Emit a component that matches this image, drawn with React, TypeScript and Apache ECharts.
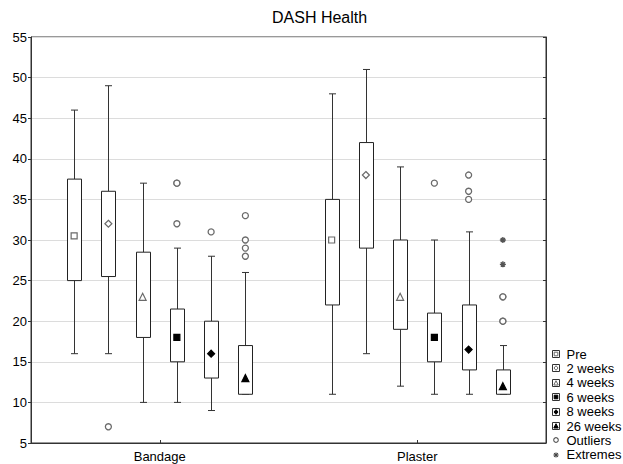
import React, { useEffect, useRef } from "react";
import * as echarts from "echarts";

const title = "DASH Health";
const categories = ["Bandage", "Plaster"];
const timepoints = ["Pre", "2 weeks", "4 weeks", "6 weeks", "8 weeks", "26 weeks"];
const yTicks = { min: 5, max: 55, interval: 5 };

// [whisker low, Q1, Q3, whisker high] per time point
const bandageBox = [
  [16, 25, 37.5, 46],
  [16, 25.5, 36, 49],
  [10, 18, 28.5, 37],
  [10, 15, 21.5, 29],
  [9, 13, 20, 28],
  [11, 11, 17, 26],
];
const plasterBox = [
  [11, 22, 35, 48],
  [16, 29, 42, 51],
  [12, 19, 30, 39],
  [11, 15, 21, 30],
  [11, 14, 22, 31],
  [11, 11, 14, 17],
];
const bandageMean = [30.5, 32, 23, 18, 16, 13];
const plasterMean = [30, 38, 23, 18, 16.5, 12];
const bandageOutliers = [[], [7], [], [37, 37, 32], [31], [33, 30, 29, 28]];
const plasterOutliers = [[], [], [], [37], [38, 36, 35], [23, 23, 20, 20]];
const bandageExtremes: number[][] = [[], [], [], [], [], []];
const plasterExtremes = [[], [], [], [], [], [30, 27]];

const FONT = "'Liberation Sans', Arial, sans-serif";
const SPACING = 0.133; // group spacing in category units
const posOf = (ci: number, k: number) => ci + 0.5 + (k - 2.5) * SPACING;

const meanSymbols = [
  { symbol: "rect", size: 6, fill: "#fff", stroke: "#6a6a6a" },
  { symbol: "diamond", size: 7, fill: "#fff", stroke: "#6a6a6a" },
  { symbol: "triangle", size: 7, fill: "#fff", stroke: "#6a6a6a" },
  { symbol: "rect", size: 6, fill: "#000", stroke: "#000" },
  { symbol: "diamond", size: 7, fill: "#000", stroke: "#000" },
  { symbol: "triangle", size: 7, fill: "#000", stroke: "#000" },
];

const ASTERISK = "path://M5,0L5,10M0,5L10,5M1.5,1.5L8.5,8.5M8.5,1.5L1.5,8.5";

function buildOption() {
  const boxes = [bandageBox, plasterBox];
  const means = [bandageMean, plasterMean];
  const outs = [bandageOutliers, plasterOutliers];
  const exts = [bandageExtremes, plasterExtremes];
  const series: any[] = [];

  timepoints.forEach((tp, k) => {
    series.push({
      name: tp,
      type: "custom",
      xAxisIndex: 1,
      yAxisIndex: 0,
      z: 2,
      data: categories.map((_, ci) => [posOf(ci, k), ...boxes[ci][k]]),
      renderItem: (params: any, api: any) => {
        const x = api.value(0);
        const pLow = api.coord([x, api.value(1)]);
        const pQ1 = api.coord([x, api.value(2)]);
        const pQ3 = api.coord([x, api.value(3)]);
        const pHigh = api.coord([x, api.value(4)]);
        const cx = Math.round(pLow[0]) + 0.5;
        const hw = 7;
        const cap = 3.5;
        const ls = { stroke: "#333", lineWidth: 1 };
        return {
          type: "group",
          children: [
            { type: "line", shape: { x1: cx, y1: pHigh[1], x2: cx, y2: pQ3[1] }, style: ls },
            { type: "line", shape: { x1: cx, y1: pQ1[1], x2: cx, y2: pLow[1] }, style: ls },
            { type: "line", shape: { x1: cx - cap, y1: pHigh[1], x2: cx + cap, y2: pHigh[1] }, style: ls },
            { type: "line", shape: { x1: cx - cap, y1: pLow[1], x2: cx + cap, y2: pLow[1] }, style: ls },
            {
              type: "rect",
              shape: { x: cx - hw, y: pQ3[1], width: 2 * hw, height: pQ1[1] - pQ3[1] },
              style: { fill: "#fff", stroke: "#222", lineWidth: 1 },
            },
          ],
        };
      },
    });
    const ms = meanSymbols[k];
    series.push({
      name: tp + " mean",
      type: "scatter",
      xAxisIndex: 1,
      yAxisIndex: 0,
      z: 4,
      symbol: ms.symbol,
      symbolSize: ms.size,
      itemStyle: { color: ms.fill, borderColor: ms.stroke, borderWidth: 1.2, opacity: 1 },
      data: categories.map((_, ci) => [posOf(ci, k), means[ci][k]]),
    });
  });

  const outlierData: number[][] = [];
  const extremeData: number[][] = [];
  categories.forEach((_, ci) => {
    timepoints.forEach((_, k) => {
      outs[ci][k].forEach((v) => outlierData.push([posOf(ci, k), v]));
      exts[ci][k].forEach((v) => extremeData.push([posOf(ci, k), v]));
    });
  });
  series.push({
    name: "Outliers",
    type: "scatter",
    xAxisIndex: 1,
    yAxisIndex: 0,
    z: 4,
    symbol: "circle",
    symbolSize: 6,
    itemStyle: { color: "#fff", borderColor: "#6a6a6a", borderWidth: 1.3, opacity: 1 },
    data: outlierData,
  });
  series.push({
    name: "Extremes",
    type: "scatter",
    xAxisIndex: 1,
    yAxisIndex: 0,
    z: 4,
    symbol: ASTERISK,
    symbolSize: 6,
    itemStyle: { color: "transparent", borderColor: "#555", borderWidth: 1.4, opacity: 1 },
    data: extremeData,
  });

  // legend drawn as graphic elements
  const legendX = 552;
  const legendY0 = 354;
  const rowH = 14.4;
  const legendNames = [...timepoints, "Outliers", "Extremes"];
  const graphics: any[] = [];
  legendNames.forEach((name, i) => {
    const cy = legendY0 + i * rowH;
    const bx = legendX + 0.5;
    const by = Math.round(cy - 4) + 0.5;
    const mx = bx + 3.5;
    const my = by + 3.5;
    if (i < 6) {
      graphics.push({
        type: "rect",
        shape: { x: bx, y: by, width: 7, height: 7 },
        style: { fill: "#fff", stroke: "#333", lineWidth: 1 },
      });
      const ms = meanSymbols[i];
      const st = { fill: ms.fill, stroke: ms.stroke, lineWidth: 1 };
      if (ms.symbol === "rect") {
        graphics.push({ type: "rect", shape: { x: mx - 1.8, y: my - 1.8, width: 3.6, height: 3.6 }, style: st });
      } else if (ms.symbol === "diamond") {
        graphics.push({
          type: "polygon",
          shape: { points: [[mx, my - 2.3], [mx + 2, my], [mx, my + 2.3], [mx - 2, my]] },
          style: st,
        });
      } else {
        graphics.push({
          type: "polygon",
          shape: { points: [[mx, my - 2.3], [mx + 2.2, my + 2], [mx - 2.2, my + 2]] },
          style: st,
        });
      }
    } else if (name === "Outliers") {
      graphics.push({
        type: "circle",
        shape: { cx: mx, cy: my, r: 2.3 },
        style: { fill: "#fff", stroke: "#555", lineWidth: 1.1 },
      });
    } else {
      const r = 2.6;
      const ls = { stroke: "#444", lineWidth: 1.1 };
      graphics.push({ type: "line", shape: { x1: mx - r, y1: my, x2: mx + r, y2: my }, style: ls });
      graphics.push({ type: "line", shape: { x1: mx, y1: my - r, x2: mx, y2: my + r }, style: ls });
      graphics.push({ type: "line", shape: { x1: mx - 1.9, y1: my - 1.9, x2: mx + 1.9, y2: my + 1.9 }, style: ls });
      graphics.push({ type: "line", shape: { x1: mx + 1.9, y1: my - 1.9, x2: mx - 1.9, y2: my + 1.9 }, style: ls });
    }
    graphics.push({
      type: "text",
      x: legendX + 14.5,
      y: cy,
      style: {
        text: name,
        fill: "#000",
        font: `13px ${FONT}`,
        verticalAlign: "middle",
        align: "left",
      },
    });
  });

  return {
    animation: false,
    backgroundColor: "#fff",
    textStyle: { fontFamily: FONT },
    title: {
      text: title,
      left: 272,
      top: 9,
      padding: 0,
      textStyle: { fontSize: 16, fontWeight: "normal", color: "#000", fontFamily: FONT },
    },
    grid: {
      left: 31,
      right: 77,
      top: 37,
      bottom: 21,
      show: true,
      borderColor: "#333",
      borderWidth: 1,
      backgroundColor: "transparent",
    },
    xAxis: [
      {
        type: "category",
        data: categories,
        position: "bottom",
        axisLine: { show: true, lineStyle: { color: "#333", width: 1 } },
        axisTick: { show: true, alignWithLabel: true, inside: true, length: 3, lineStyle: { color: "#333" } },
        axisLabel: { color: "#000", fontSize: 13, margin: 7, fontFamily: FONT },
        splitLine: { show: false },
      },
      { type: "value", min: 0, max: 2, show: false },
    ],
    yAxis: [
      {
        type: "value",
        min: yTicks.min,
        max: yTicks.max,
        interval: yTicks.interval,
        axisLine: { show: true, lineStyle: { color: "#333", width: 1 } },
        axisTick: { show: true, inside: false, length: 3, lineStyle: { color: "#333" } },
        axisLabel: { color: "#000", fontSize: 13, margin: 4, fontFamily: FONT },
        splitLine: { show: true, lineStyle: { color: "#dcdcdc", width: 1 } },
      },
      {
        type: "value",
        position: "right",
        min: yTicks.min,
        max: yTicks.max,
        interval: yTicks.interval,
        axisLine: { show: true, lineStyle: { color: "#333", width: 1 } },
        axisTick: { show: true, inside: true, length: 3, lineStyle: { color: "#333" } },
        axisLabel: { show: false },
        splitLine: { show: false },
      },
    ],
    graphic: graphics,
    series,
  };
}

export default function App() {
  const ref = useRef<HTMLDivElement>(null);
  useEffect(() => {
    if (!ref.current) return;
    const chart = echarts.init(ref.current, undefined, { renderer: "svg" });
    chart.setOption(buildOption());
    return () => chart.dispose();
  }, []);
  return (
    <div
      ref={ref}
      style={{ position: "fixed", left: 0, top: 0, width: 623, height: 464, background: "#fff" }}
    />
  );
}
